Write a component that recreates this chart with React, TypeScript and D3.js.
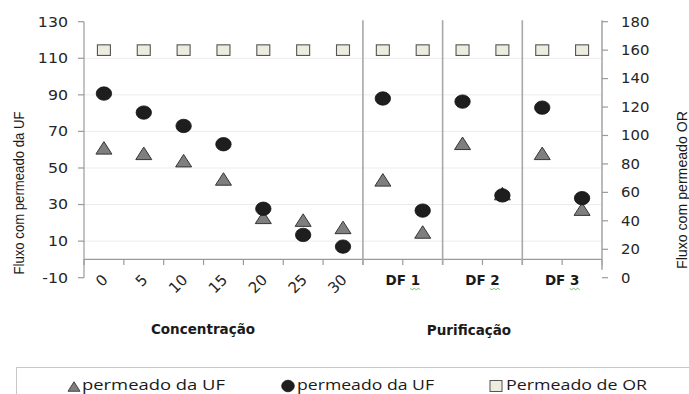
import React from "react";
import * as d3 from "d3";

// ---- data ----
const categories = ["0", "5", "10", "15", "20", "25", "30", "DF1a", "DF1b", "DF2a", "DF2b", "DF3a", "DF3b"];
const concLabels = ["0", "5", "10", "15", "20", "25", "30"];
const dfGroups = ["DF 1", "DF 2", "DF 3"];
const groupTitles = ["Concentração", "Purificação"];
const triangleSeries = [61, 58, 54, 44, 23, 21.5, 17.5, 43.5, 15, 63.5, 36, 58, 27.5];
const circleSeries = [90.7, 80.3, 73, 63, 27.7, 13.4, 7, 88, 26.7, 86.3, 35, 83, 33.5];
const squareSeries = [160, 160, 160, 160, 160, 160, 160, 160, 160, 160, 160, 160, 160];
const leftTicks = [-10, 10, 30, 50, 70, 90, 110, 130];
const rightTicks = [0, 20, 40, 60, 80, 100, 120, 140, 160, 180];
const legendLabels = ["permeado da UF", "permeado da UF", "Permeado de OR"];
const leftTitle = "Fluxo com permeado da UF";
const rightTitle = "Fluxo com permeado OR";

const W = 689;
const H = 394;
const L = 84;
const R = 602;
const T = 21.7;
const B = 277.7;

export default function App() {
  const yL = d3.scaleLinear().domain([-10, 130]).range([B, T]);
  const yR = d3.scaleLinear().domain([0, 180]).range([B, T]);
  const x = d3.scaleBand<string>().domain(categories).range([L, R]).padding(0);
  const bw = x.bandwidth();
  const cx = (i: number) => (x(categories[i]) as number) + bw / 2;
  const y0 = yL(0);
  const tickFont = "DejaVu Sans, Verdana, sans-serif";
  const boundaries = d3.range(categories.length + 1).map((i) => L + i * bw);
  const separatorIdx = [7, 9, 11];

  const tri = (px: number, py: number, w: number, h: number) =>
    `M${px},${py - h / 2}L${px + w / 2},${py + h / 2}L${px - w / 2},${py + h / 2}Z`;

  const squiggle = (sx: number, sy: number, len: number) => {
    let p = `M${sx},${sy}`;
    const n = Math.round(len / 2);
    for (let k = 1; k <= n; k++) p += `L${sx + k * 2},${sy + (k % 2 ? 1.2 : -0.2)}`;
    return p;
  };

  return (
    <svg width={W} height={H} style={{ position: "absolute", left: 0, top: 0, background: "#fff" }}>
      <rect x={0} y={0} width={W} height={H} fill="#fff" />
      {/* gridlines */}
      {leftTicks
        .filter((t) => t > -10 && t < 130)
        .map((t) => (
          <line key={"g" + t} x1={L} x2={R} y1={yL(t)} y2={yL(t)} stroke="#ececec" strokeWidth={1} />
        ))}
      {/* x axis at zero */}
      <line x1={L} x2={R} y1={y0} y2={y0} stroke="#9a9a9a" strokeWidth={1.2} />
      {boundaries.map((bx, i) => (
        <line key={"bt" + i} x1={bx} x2={bx} y1={y0} y2={y0 + 5.5} stroke="#9a9a9a" strokeWidth={1.2} />
      ))}
      {separatorIdx.map((i) => (
        <line key={"sep" + i} x1={boundaries[i]} x2={boundaries[i]} y1={T - 1.5} y2={y0 + 5.5} stroke="#a8a8a8" strokeWidth={1.6} />
      ))}
      {/* left axis */}
      <line x1={L} x2={L} y1={T} y2={B} stroke="#9a9a9a" strokeWidth={1.2} />
      {leftTicks.map((t) => (
        <g key={"lt" + t}>
          <line x1={L - 6} x2={L} y1={yL(t)} y2={yL(t)} stroke="#9a9a9a" strokeWidth={1.2} />
          <text
            transform={`translate(68,${yL(t)}) scale(1.17,1)`}
            textAnchor="end"
            dy="0.36em"
            fontFamily={tickFont}
            fontSize={13.5}
            fill="#262626"
          >
            {t}
          </text>
        </g>
      ))}
      {/* right axis */}
      <line x1={R} x2={R} y1={T - 1.5} y2={B - 8} stroke="#a8a8a8" strokeWidth={1.6} />
      {rightTicks.map((t) => (
        <g key={"rt" + t}>
          <line x1={R} x2={R + 6} y1={yR(t)} y2={yR(t)} stroke="#9a9a9a" strokeWidth={1.2} />
          <text
            transform={`translate(621,${yR(t)}) scale(1.1,1)`}
            textAnchor="start"
            dy="0.36em"
            fontFamily={tickFont}
            fontSize={13.5}
            fill="#262626"
          >
            {t}
          </text>
        </g>
      ))}
      {/* category labels */}
      {concLabels.map((c, i) => (
        <text
          key={"cl" + c}
          transform={`translate(${cx(i) + 1},${277}) rotate(-45)`}
          textAnchor="end"
          dy="0.36em"
          fontFamily={tickFont}
          fontSize={15}
          fill="#262626"
        >
          {c}
        </text>
      ))}
      {dfGroups.map((g, k) => {
        const gx = boundaries[8 + k * 2];
        const dx = gx + 12.5;
        return (
          <g key={"df" + g}>
            <text x={gx} y={280} dy="0.36em" textAnchor="middle" fontFamily={tickFont} fontWeight="bold" fontSize={13.5} fill="#1a1a1a">
              {g}
            </text>
            <path d={squiggle(dx - 5, 288.5, 10)} stroke="#6bb36b" strokeWidth={0.9} fill="none" />
          </g>
        );
      })}
      <text x={203} y={329} dy="0.36em" textAnchor="middle" fontFamily={tickFont} fontWeight="bold" fontSize={13.5} fill="#1a1a1a">
        {groupTitles[0]}
      </text>
      <text x={469} y={330} dy="0.36em" textAnchor="middle" fontFamily={tickFont} fontWeight="bold" fontSize={13.5} fill="#1a1a1a">
        {groupTitles[1]}
      </text>
      {/* axis titles */}
      <text
        transform={`translate(19,193) rotate(-90)`}
        textAnchor="middle"
        dy="0.36em"
        fontFamily="Liberation Sans, Arial, sans-serif"
        fontSize={14}
        fill="#1a1a1a"
        textLength={163}
        lengthAdjust="spacingAndGlyphs"
      >
        {leftTitle}
      </text>
      <text
        transform={`translate(682,190) rotate(-90)`}
        textAnchor="middle"
        dy="0.36em"
        fontFamily="Liberation Sans, Arial, sans-serif"
        fontSize={14}
        fill="#1a1a1a"
        textLength={158}
        lengthAdjust="spacingAndGlyphs"
      >
        {rightTitle}
      </text>
      {/* markers */}
      {triangleSeries.map((v, i) => (
        <path key={"tr" + i} d={tri(cx(i), yL(v), 16, 12.5)} fill="#7f7f7f" stroke="#353535" strokeWidth={1} />
      ))}
      {circleSeries.map((v, i) => (
        <ellipse key={"ci" + i} cx={cx(i)} cy={yL(v)} rx={7.7} ry={6.7} fill="#1e1e1e" stroke="#111" strokeWidth={0.8} />
      ))}
      {squareSeries.map((v, i) => (
        <rect key={"sq" + i} x={cx(i) - 6.5} y={yR(v) - 5.3} width={13} height={10.6} fill="#ececdf" stroke="#555" strokeWidth={1.1} />
      ))}
      {/* legend */}
      <rect x={16.5} y={367.5} width={720} height={60} fill="#fff" stroke="#c8c8c8" strokeWidth={1} />
      <path d={tri(74, 386.5, 12, 9.5)} fill="#7f7f7f" stroke="#353535" strokeWidth={0.9} />
      <text x={82} y={389.5} fontFamily="Open Sans, sans-serif" fontSize={14} fill="#1a1a1a" textLength={143} lengthAdjust="spacingAndGlyphs">
        {legendLabels[0]}
      </text>
      <ellipse cx={288} cy={386} rx={6.3} ry={5.8} fill="#1e1e1e" stroke="#111" strokeWidth={0.8} />
      <text x={297} y={389.5} fontFamily="Open Sans, sans-serif" fontSize={14} fill="#1a1a1a" textLength={137} lengthAdjust="spacingAndGlyphs">
        {legendLabels[1]}
      </text>
      <rect x={490} y={380.5} width={12} height={11} fill="#ececdf" stroke="#555" strokeWidth={1} />
      <text x={506} y={389.5} fontFamily="Open Sans, sans-serif" fontSize={14} fill="#1a1a1a" textLength={141} lengthAdjust="spacingAndGlyphs">
        {legendLabels[2]}
      </text>
    </svg>
  );
}
